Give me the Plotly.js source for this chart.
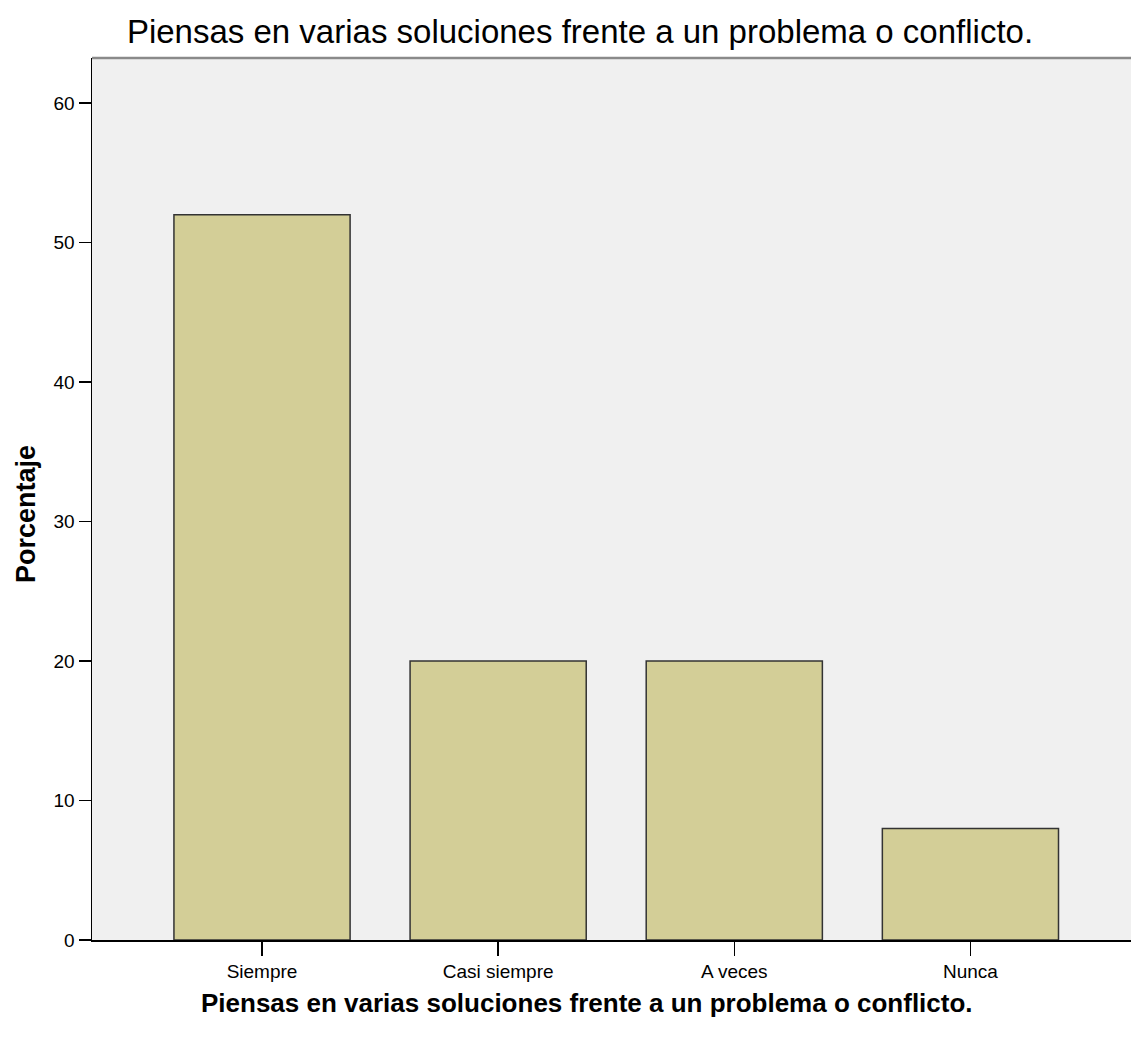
<!DOCTYPE html>
<html>
<head>
<meta charset="utf-8">
<script src="https://cdn.plot.ly/plotly-3.0.1.min.js"></script>
<style>html,body{margin:0;padding:0;background:#fff;}#chart{width:1131px;height:1038px;}</style>
</head>
<body>
<div id="chart"></div>
<script>
const categories = ["Siempre", "Casi siempre", "A veces", "Nunca"];
const percentages = [52, 20, 20, 8];
const yTicks = [0, 10, 20, 30, 40, 50, 60];
const chartTitle = "Piensas en varias soluciones frente a un problema o conflicto.";
const xTitle = "Piensas en varias soluciones frente a un problema o conflicto.";
const yTitle = "Porcentaje";

const sans = "'Liberation Sans', Arial, sans-serif";

const trace = {
  type: 'bar',
  x: categories,
  y: percentages,
  width: 0.746,
  marker: {color: '#d3ce97', line: {color: '#333333', width: 1.5}},
  hoverinfo: 'x+y'
};

const plotL = 92, plotR = 1131, plotT = 58, plotB = 940;
const pw = plotR - plotL, ph = plotB - plotT;

const layout = {
  width: 1131,
  height: 1038,
  margin: {l: plotL, r: 1131 - plotR, t: plotT, b: 1038 - plotB},
  paper_bgcolor: '#ffffff',
  plot_bgcolor: '#f0f0f0',
  showlegend: false,
  title: {
    text: chartTitle,
    xref: 'container', yref: 'container',
    x: 580 / 1131, xanchor: 'center',
    y: 1 - 31 / 1038, yanchor: 'middle',
    font: {family: sans, size: 33, color: '#000'}
  },
  xaxis: {
    type: 'category',
    range: [-0.72, 3.68],
    showgrid: false,
    zeroline: false,
    showline: true,
    linecolor: '#000',
    linewidth: 1.5,
    ticks: 'outside',
    ticklen: 14,
    tickwidth: 1.5,
    tickcolor: '#000',
    tickfont: {family: sans, size: 19, color: '#000'},
    fixedrange: true
  },
  yaxis: {
    range: [0, 63.23],
    tickvals: yTicks,
    ticktext: yTicks.map(String),
    showgrid: false,
    zeroline: false,
    showline: true,
    linecolor: '#000',
    linewidth: 1.5,
    ticks: 'outside',
    ticklen: 12,
    tickwidth: 1.5,
    tickcolor: '#000',
    tickfont: {family: sans, size: 19, color: '#000'},
    fixedrange: true
  },
  shapes: [
    {type: 'line', xref: 'paper', yref: 'paper', x0: 0, x1: 1, y0: 1, y1: 1,
     line: {color: '#8a8a8a', width: 2.5}}
  ],
  annotations: [
    {text: '<b>' + xTitle + '</b>', xref: 'paper', yref: 'paper',
     x: (587 - plotL) / pw, xanchor: 'center', y: (plotB - 1003) / ph, yanchor: 'middle',
     showarrow: false, font: {family: sans, size: 26, color: '#000'}},
    {text: '<b>' + yTitle + '</b>', xref: 'paper', yref: 'paper',
     x: (26 - plotL) / pw, xanchor: 'center', y: (plotB - 514) / ph, yanchor: 'middle',
     textangle: -90, showarrow: false, font: {family: sans, size: 27, color: '#000'}}
  ]
};

Plotly.newPlot('chart', [trace], layout, {displayModeBar: false, staticPlot: true});
</script>
</body>
</html>
